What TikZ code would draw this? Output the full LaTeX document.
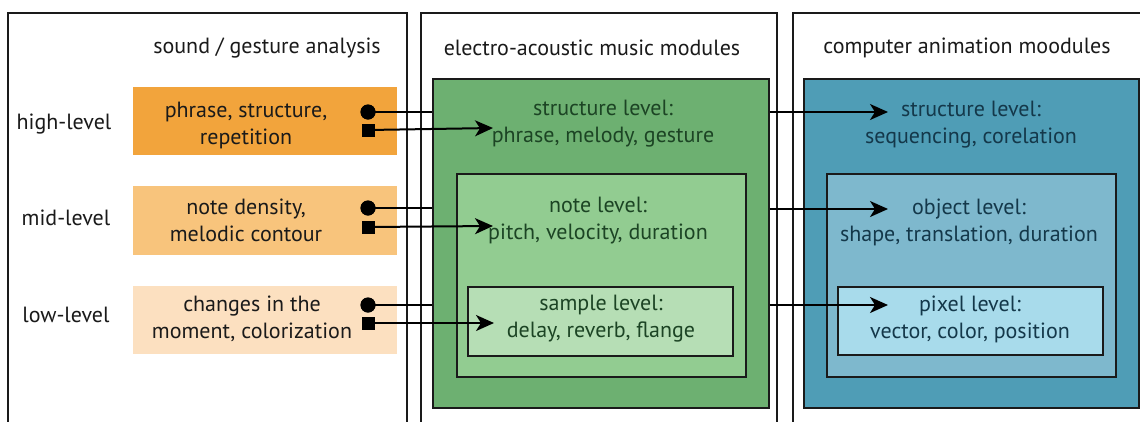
\documentclass[tikz,border=0pt]{standalone}
\usepackage{fontspec}
\setmainfont{PT Sans}
\usetikzlibrary{arrows.meta}
\definecolor{orHigh}{HTML}{F2A43C}
\definecolor{orMid}{HTML}{F8C47C}
\definecolor{orLow}{HTML}{FCE0C0}
\definecolor{grA}{HTML}{6DB071}
\definecolor{grB}{HTML}{92CC91}
\definecolor{grC}{HTML}{B6DEB5}
\definecolor{grText}{HTML}{1C4424}
\definecolor{blA}{HTML}{4F9DB6}
\definecolor{blB}{HTML}{7EB8CD}
\definecolor{blC}{HTML}{A8DBEB}
\definecolor{blText}{HTML}{14384A}
\definecolor{ink}{HTML}{1A1A1A}
\tikzset{
  x=1pt, y=-1pt,
  panel/.style={draw=ink, line width=1.7pt},
  lvl/.style={draw=ink, line width=1.7pt},
  txt/.style={font=\fontsize{22}{27}\selectfont, align=center, inner sep=0pt},
  tagbox/.style={txt, text=ink},
  dot/.style={circle, fill=black, minimum size=15pt, inner sep=0pt},
  sq/.style={rectangle, fill=black, minimum size=13pt, inner sep=0pt},
  wire/.style={line width=2pt, draw=black},
  arr/.style={wire, -{Stealth[length=18pt,width=16pt,inset=5pt]}},
}
\begin{document}
\begin{tikzpicture}
\useasboundingbox (0,0) rectangle (1140,421);
\clip (0,0) rectangle (1140,421);
\fill[white] (0,0) rectangle (1140,421);

% three column frames, open at the bottom
\draw[panel] (8,440) -- (8,13) -- (407,13) -- (407,440);
\draw[panel] (421,440) -- (421,13) -- (777,13) -- (777,440);
\draw[panel] (793,440) -- (793,13) -- (1160,13);

\node[tagbox] (t1) at (267,48) {sound / gesture analysis};
\node[tagbox] (t2) at (592,48) {electro-acoustic music modules};
\node[tagbox] (t3) at (967,48) {computer animation moodules};

% analysis boxes
\fill[orHigh] (133,87) rectangle (397,155);
\fill[orMid] (133,186) rectangle (397,255);
\fill[orLow] (133,286) rectangle (397,354);
\node[tagbox] (lh) at (64,124) {high-level};
\node[tagbox] (lm) at (66,218) {mid-level};
\node[tagbox] (ll) at (66,315) {low-level};
\node[tagbox] (ah) at (246,125) {phrase, structure,\\repetition};
\node[tagbox] (am) at (246,220) {note density,\\melodic contour};
\node[tagbox] (al) at (252,319) {changes in the\\moment, colorization};

% music modules
\node[lvl, fill=grA, minimum width=336pt, minimum height=329pt, anchor=north west, inner sep=0pt] (g1) at (432,78) {};
\node[lvl, fill=grB, minimum width=289pt, minimum height=203pt, anchor=north west, inner sep=0pt] (g2) at (456,173) {};
\node[lvl, fill=grC, minimum width=265pt, minimum height=69pt, anchor=north west, inner sep=0pt] (g3) at (467,286) {};
\node[txt, text=grText] (gt1) at (603,124) {structure level:\\phrase, melody, gesture};
\node[txt, text=grText] (gt2) at (598,221) {note level:\\pitch, velocity, duration};
\node[txt, text=grText] (gt3) at (601,319) {sample level:\\delay, reverb, flange};

% animation modules
\node[lvl, fill=blA, minimum width=335pt, minimum height=329pt, anchor=north west, inner sep=0pt] (b1) at (803,78) {};
\node[lvl, fill=blB, minimum width=289pt, minimum height=203pt, anchor=north west, inner sep=0pt] (b2) at (826,173) {};
\node[lvl, fill=blC, minimum width=265pt, minimum height=68pt, anchor=north west, inner sep=0pt] (b3) at (837,286) {};
\node[txt, text=blText] (bt1) at (971,125) {structure level:\\sequencing, corelation};
\node[txt, text=blText] (bt2) at (969,222) {object level:\\shape, translation, duration};
\node[txt, text=blText] (bt3) at (970,319) {pixel level:\\vector, color, position};

% arrow tips
\coordinate (gh) at (493,128);
\coordinate (gm) at (493,226);
\coordinate (gl) at (494,323);
\coordinate (bh) at (888,112);
\coordinate (bm) at (888,209);
\coordinate (bl) at (888,305);

% connectors from analysis to music modules
\foreach \k/\yc/\ys in {h/112/130, m/208/227, l/305/323} {
  \node[dot] (c\k) at (368,\yc) {};
  \node[sq] (s\k) at (368,\ys) {};
  \draw[wire] (c\k.center) -- (c\k.center -| g1.west);
  \draw[arr] (s\k.center) -- (g\k);
}
% connectors from music to animation modules
\foreach \k in {h,m,l} {
  \draw[arr] (b\k -| g1.east) -- (b\k);
}
% marker heads on top of the wires
\foreach \k/\yc/\ys in {h/112/130, m/208/227, l/305/323} {
  \node[dot] at (c\k) {};
  \node[sq] at (s\k) {};
}
\end{tikzpicture}
\end{document}
